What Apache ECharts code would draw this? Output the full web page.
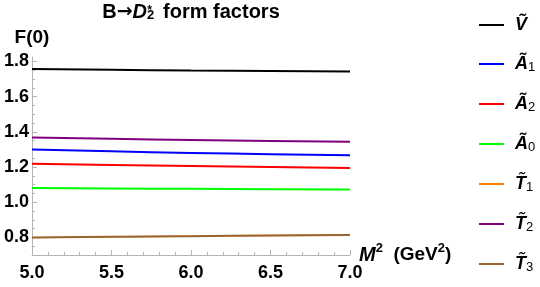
<!DOCTYPE html>
<html>
<head>
<meta charset="utf-8">
<script src="https://cdn.jsdelivr.net/npm/echarts@6/dist/echarts.min.js"></script>
<style>
html,body{margin:0;padding:0;background:#fff;}
#c{width:540px;height:287px;}
</style>
</head>
<body>
<div id="c"></div>
<script>
// ---- data ----
const M2 = [5.0, 5.5, 6.0, 6.5, 7.0];
const V_t  = [1.757, 1.752, 1.748, 1.745, 1.742];
const A1_t = [1.299, 1.289, 1.280, 1.273, 1.267];
const A2_t = [1.219, 1.212, 1.205, 1.200, 1.195];
const A0_t = [1.080, 1.078, 1.076, 1.074, 1.072];
const T1_t = [0.799, 0.803, 0.807, 0.811, 0.814];
const T2_t = [1.367, 1.360, 1.353, 1.348, 1.343];
const T3_t = [0.799, 0.803, 0.807, 0.811, 0.814];
const seriesNames = ['Ṽ', 'Ã1', 'Ã2', 'Ã0', 'T̃1', 'T̃2', 'T̃3'];
const seriesColors = ['#000000', '#0000ff', '#ff0000', '#00ff00', '#ff8000', '#800080', '#996633'];
const seriesWidths = [2, 2, 2, 2, 1.4, 2, 2];
const xTicks = [5.0, 5.5, 6.0, 6.5, 7.0];
const yTicks = [0.8, 1.0, 1.2, 1.4, 1.6, 1.8];

const values = [V_t, A1_t, A2_t, A0_t, T1_t, T2_t, T3_t];
const xMinor = [];
for (let i = 0; i <= 20; i++) xMinor.push(+(5 + i * 0.1).toFixed(2));
const yMinor = [];
for (let i = 0; i <= 22; i++) yMinor.push(+(0.7 + i * 0.05).toFixed(2));

const FONT = '"Liberation Sans", Arial, sans-serif';
const axisGray = '#b4b4b4';

function legendLabel(name) {
  const main = name.replace(/[0-9]/g, '');
  const sub = name.replace(/[^0-9]/g, '');
  return '{m|' + main + '}' + (sub ? '{s|' + sub + '}' : '');
}

const chart = echarts.init(document.getElementById('c'), null, {renderer: 'canvas'});
chart.setOption({
  animation: false,
  backgroundColor: '#ffffff',
  textStyle: {fontFamily: FONT},
  title: {
    text: '{a|B}{r|→}{i|D}{s|2}{p|*}{a|  form factors}',
    left: 186,
    top: -3,
    textAlign: 'center',
    textStyle: {
      rich: {
        a: {fontSize: 20, fontWeight: 'bold', fontFamily: FONT, color: '#000', lineHeight: 20},
        r: {fontSize: 19, fontWeight: 'bold', fontFamily: '"DejaVu Sans", sans-serif', color: '#000', lineHeight: 20},
        i: {fontSize: 20, fontWeight: 'bold', fontStyle: 'italic', fontFamily: FONT, color: '#000', lineHeight: 20},
        s: {fontSize: 13, fontFamily: FONT, color: '#000', verticalAlign: 'bottom', lineHeight: 12, padding: [13, 0, 0, 0]},
        p: {fontSize: 12, fontFamily: FONT, color: '#000', verticalAlign: 'top', lineHeight: 14, padding: [3, 0, 0, -7]}
      }
    }
  },
  legend: {
    orient: 'vertical',
    left: 474,
    top: 11,
    itemWidth: 25,
    itemHeight: 20,
    itemGap: 21,
    icon: 'path://M0,9L25,9L25,11L0,11Z',
    formatter: legendLabel,
    textStyle: {
      color: '#000',
      padding: [0, 0, 0, 6],
      rich: {
        m: {fontSize: 18, fontWeight: 'bold', fontStyle: 'italic', fontFamily: FONT, color: '#000', lineHeight: 20},
        s: {fontSize: 13, fontFamily: FONT, color: '#000', verticalAlign: 'bottom', lineHeight: 13}
      }
    },
    data: seriesNames
  },
  grid: {left: 32, right: 190, top: 57, bottom: 32, containLabel: false},
  xAxis: [{
    type: 'value', min: 5, max: 7,
    name: '{m|M}{p|2}{n|  (GeV}{p|2}{n|)}',
    nameLocation: 'end', nameGap: 9,
    nameMoveOverlap: false,
    nameTextStyle: {
      align: 'left', verticalAlign: 'middle',
      rich: {
        m: {fontSize: 20, fontWeight: 'bold', fontStyle: 'italic', fontFamily: FONT, color: '#000', lineHeight: 26},
        n: {fontSize: 19, fontWeight: 'bold', fontFamily: FONT, color: '#000', lineHeight: 26},
        p: {fontSize: 13, fontWeight: 'bold', fontFamily: FONT, color: '#000', verticalAlign: 'top', lineHeight: 14}
      }
    },
    axisLine: {show: true, onZero: false, lineStyle: {color: axisGray, width: 1}},
    axisTick: {show: true, inside: true, length: 5, customValues: xTicks, lineStyle: {color: axisGray}},
    axisLabel: {customValues: xTicks, formatter: v => v.toFixed(1), fontSize: 18, fontWeight: 'bold', fontFamily: FONT, color: '#000', margin: 9},
    splitLine: {show: false}
  }, {
    type: 'value', min: 5, max: 7, position: 'bottom',
    axisLine: {show: false},
    axisTick: {show: true, inside: true, length: 3, customValues: xMinor, lineStyle: {color: axisGray}},
    axisLabel: {show: false},
    splitLine: {show: false}
  }],
  yAxis: [{
    type: 'value', min: 0.7, max: 1.825,
    name: 'F(0)', nameLocation: 'end', nameGap: 10,
    nameMoveOverlap: false,
    nameTextStyle: {fontSize: 19, fontWeight: 'bold', fontFamily: FONT, color: '#000', align: 'center'},
    axisLine: {show: true, onZero: false, lineStyle: {color: axisGray, width: 1}},
    axisTick: {show: true, inside: true, length: 5, customValues: yTicks, lineStyle: {color: axisGray}},
    axisLabel: {customValues: yTicks, formatter: v => v.toFixed(1), fontSize: 18, fontWeight: 'bold', fontFamily: FONT, color: '#000', margin: 3},
    splitLine: {show: false}
  }, {
    type: 'value', min: 0.7, max: 1.825, position: 'left',
    axisLine: {show: false},
    axisTick: {show: true, inside: true, length: 3, customValues: yMinor, lineStyle: {color: axisGray}},
    axisLabel: {show: false},
    splitLine: {show: false}
  }],
  series: seriesNames.map((n, k) => ({
    name: n,
    type: 'line',
    xAxisIndex: 0, yAxisIndex: 0,
    data: M2.map((x, i) => [x, values[k][i]]),
    symbol: 'none',
    smooth: true,
    color: seriesColors[k],
    lineStyle: {color: seriesColors[k], width: seriesWidths[k]}
  }))
});
</script>
</body>
</html>
